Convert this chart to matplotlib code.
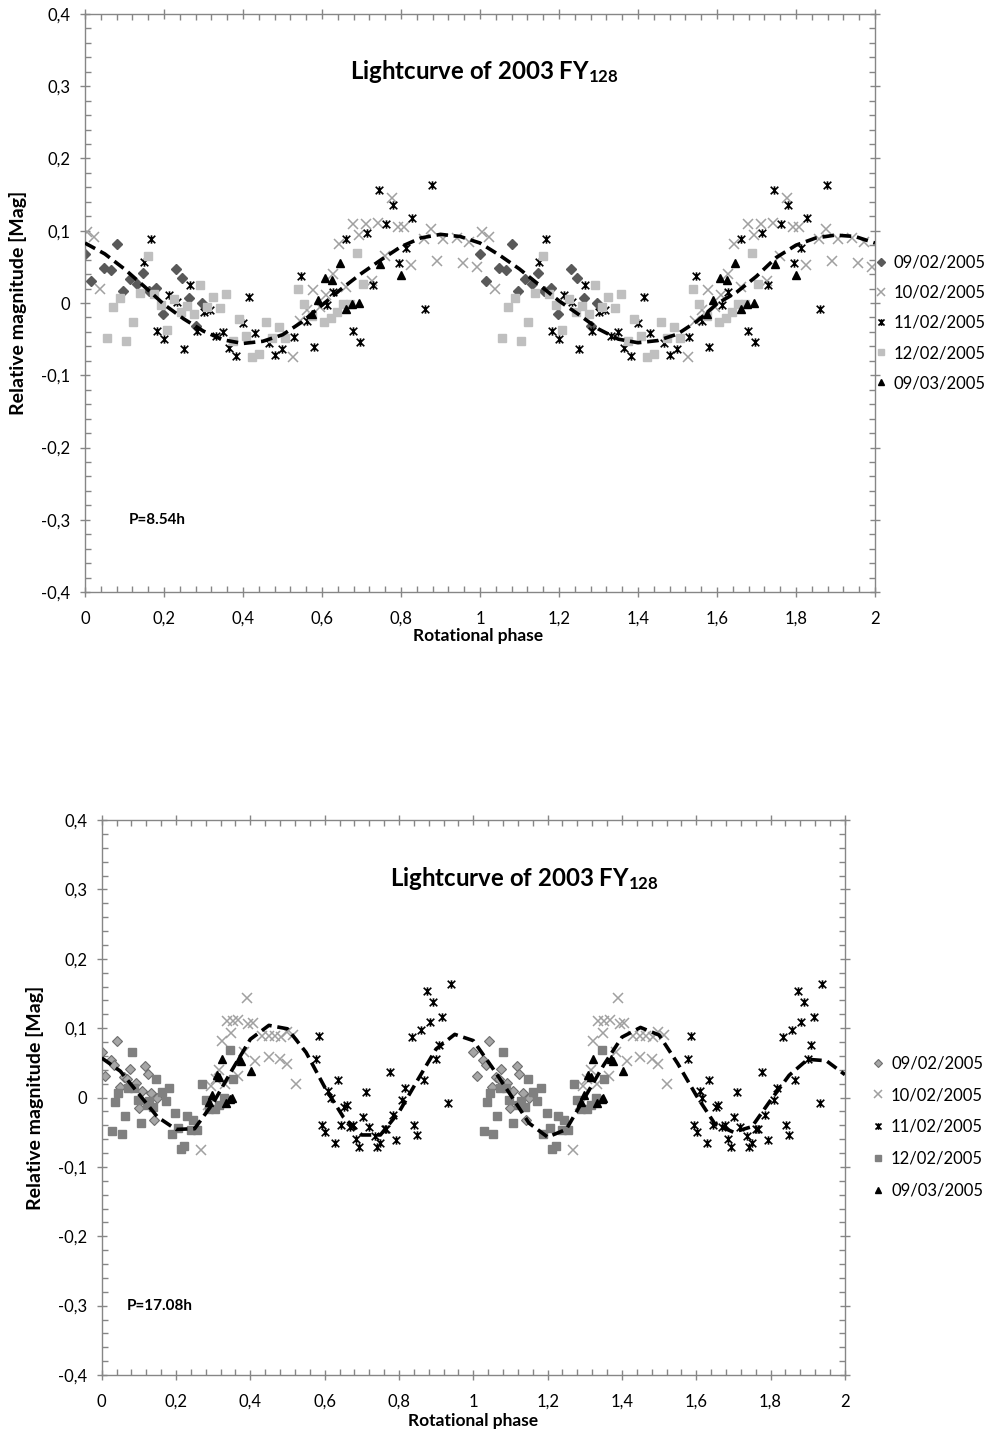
import numpy as np
import matplotlib
matplotlib.use('Agg')
import matplotlib.pyplot as plt
from matplotlib.path import Path
from matplotlib.ticker import MultipleLocator, FuncFormatter

plt.rcParams['font.family'] = ['Lato', 'DejaVu Sans']
plt.rcParams['mathtext.fontset'] = 'custom'
plt.rcParams['mathtext.rm'] = 'Lato:bold'
plt.rcParams['mathtext.it'] = 'Lato:bold'
plt.rcParams['mathtext.bf'] = 'Lato:bold'

dates = ['09/02/2005', '10/02/2005', '11/02/2005', '12/02/2005', '09/03/2005']

# ---- top chart (P = 8.54 h), one rotation, shown twice ----
top_0902_ph = [0.000, 0.015, 0.048, 0.065, 0.082, 0.097, 0.114, 0.131, 0.148, 0.163, 0.181, 0.197, 0.230, 0.246, 0.263, 0.280, 0.296]
top_0902_mag = [0.068, 0.031, 0.049, 0.046, 0.082, 0.016, 0.033, 0.026, 0.042, 0.017, 0.021, -0.015, 0.047, 0.035, 0.007, -0.032, 0.000]

top_1002_ph = [0.004, 0.023, 0.038, 0.527, 0.544, 0.561, 0.576, 0.595, 0.610, 0.627, 0.644, 0.661, 0.678, 0.694, 0.711, 0.726, 0.743, 0.760, 0.777, 0.792, 0.808, 0.826, 0.859, 0.875, 0.890, 0.907, 0.941, 0.958, 0.973, 0.992]
top_1002_mag = [0.098, 0.091, 0.020, -0.075, -0.025, -0.010, 0.018, -0.005, 0.011, 0.040, 0.082, 0.022, 0.109, 0.094, 0.109, 0.030, 0.111, 0.065, 0.145, 0.105, 0.105, 0.052, 0.089, 0.102, 0.058, 0.089, 0.090, 0.055, 0.085, 0.050]

top_1102_ph = [0.150, 0.167, 0.183, 0.200, 0.213, 0.232, 0.250, 0.266, 0.283, 0.300, 0.316, 0.332, 0.349, 0.365, 0.382, 0.399, 0.416, 0.431, 0.465, 0.482, 0.499, 0.529, 0.546, 0.561, 0.580, 0.612, 0.629, 0.662, 0.679, 0.696, 0.713, 0.728, 0.745, 0.762, 0.779, 0.795, 0.812, 0.829, 0.861, 0.878]
top_1102_mag = [0.057, 0.089, -0.039, -0.050, 0.011, 0.001, -0.064, 0.025, -0.039, -0.013, -0.010, -0.045, -0.040, -0.062, -0.073, -0.028, 0.008, -0.042, -0.056, -0.072, -0.064, -0.047, 0.038, -0.025, -0.061, -0.003, 0.015, 0.088, -0.039, -0.054, 0.097, 0.025, 0.156, 0.110, 0.136, 0.056, 0.076, 0.118, -0.008, 0.164]

top_1202_ph = [0.055, 0.072, 0.089, 0.105, 0.121, 0.139, 0.159, 0.175, 0.192, 0.208, 0.225, 0.242, 0.259, 0.276, 0.291, 0.308, 0.325, 0.342, 0.357, 0.374, 0.391, 0.407, 0.424, 0.440, 0.457, 0.473, 0.490, 0.506, 0.540, 0.555, 0.574, 0.605, 0.622, 0.639, 0.654, 0.671, 0.688, 0.705]
top_1202_mag = [-0.049, -0.006, 0.007, -0.052, -0.026, 0.014, 0.065, 0.013, -0.003, -0.037, 0.005, -0.012, -0.004, -0.015, 0.025, -0.006, 0.008, -0.007, 0.012, -0.053, -0.022, -0.045, -0.075, -0.071, -0.026, -0.048, -0.033, -0.048, 0.020, -0.002, -0.018, -0.026, -0.021, -0.012, -0.001, -0.001, 0.069, 0.026]

top_0903_ph = [0.575, 0.591, 0.608, 0.625, 0.646, 0.661, 0.677, 0.694, 0.747, 0.799]
top_0903_mag = [-0.015, 0.004, 0.035, 0.032, 0.056, -0.008, -0.002, 0.000, 0.054, 0.039]

top_fit_ph = [0.00, 0.05, 0.10, 0.15, 0.20, 0.25, 0.30, 0.35, 0.40, 0.45, 0.50, 0.55, 0.60, 0.65, 0.70, 0.75, 0.80, 0.85, 0.90, 0.95,
              1.00, 1.05, 1.10, 1.15, 1.20, 1.25, 1.30, 1.35, 1.40, 1.45, 1.50, 1.55, 1.60, 1.65, 1.70, 1.75, 1.80, 1.85, 1.90, 1.95, 2.00]
top_fit_mag = [0.083, 0.068, 0.047, 0.023, -0.002, -0.022, -0.039, -0.051, -0.056, -0.053, -0.044, -0.026, -0.003, 0.020, 0.041, 0.060, 0.078, 0.090, 0.095, 0.092,
               0.083, 0.066, 0.047, 0.025, 0.003, -0.016, -0.036, -0.050, -0.055, -0.052, -0.043, -0.025, -0.001, 0.015, 0.037, 0.063, 0.080, 0.090, 0.094, 0.092, 0.083]

# ---- bottom chart (P = 17.08 h) ----
bot_0902_ph = [0.000, 0.009, 0.025, 0.033, 0.042, 0.049, 0.061, 0.069, 0.075, 0.092, 0.100, 0.108, 0.117, 0.124, 0.133, 0.142, 0.150]
bot_0902_mag = [0.066, 0.031, 0.054, 0.047, 0.081, 0.015, 0.030, 0.026, 0.041, 0.021, -0.015, 0.010, 0.046, 0.034, 0.007, -0.032, 0.000]

bot_1002_ph = [0.267, 0.287, 0.294, 0.307, 0.316, 0.323, 0.332, 0.336, 0.348, 0.353, 0.366, 0.368, 0.383, 0.390, 0.395, 0.406, 0.413, 0.431, 0.449, 0.449, 0.466, 0.480, 0.483, 0.498, 0.498, 0.514, 0.522]
bot_1002_mag = [-0.075, -0.011, 0.016, 0.026, 0.040, 0.081, 0.020, 0.110, 0.093, 0.110, 0.031, 0.111, 0.065, 0.144, 0.106, 0.107, 0.053, 0.089, 0.058, 0.089, 0.089, 0.055, 0.087, 0.049, 0.094, 0.090, 0.020]

bot_1102_ph = [0.577, 0.586, 0.594, 0.601, 0.610, 0.616, 0.628, 0.635, 0.644, 0.653, 0.659, 0.668, 0.677, 0.685, 0.693, 0.702, 0.710, 0.718, 0.736, 0.742, 0.749, 0.762, 0.766, 0.776, 0.785, 0.792, 0.809, 0.816, 0.834, 0.841, 0.849, 0.858, 0.867, 0.875, 0.883, 0.891, 0.900, 0.909, 0.917, 0.933, 0.939]
bot_1102_mag = [0.056, 0.088, -0.039, -0.050, 0.009, 0.000, -0.065, 0.025, -0.039, -0.013, -0.011, -0.043, -0.040, -0.060, -0.072, -0.028, 0.008, -0.042, -0.056, -0.071, -0.065, -0.045, -0.046, 0.037, -0.025, -0.061, -0.003, 0.014, 0.087, -0.040, -0.054, 0.097, 0.025, 0.154, 0.109, 0.137, 0.055, 0.075, 0.116, -0.008, 0.163]

bot_1202_ph = [0.029, 0.036, 0.045, 0.054, 0.063, 0.072, 0.081, 0.088, 0.097, 0.106, 0.121, 0.128, 0.139, 0.146, 0.161, 0.172, 0.181, 0.188, 0.197, 0.206, 0.213, 0.222, 0.229, 0.240, 0.245, 0.256, 0.271, 0.280, 0.289, 0.305, 0.316, 0.330, 0.345, 0.353]
bot_1202_mag = [-0.049, -0.006, 0.006, -0.053, -0.027, 0.014, 0.065, 0.013, -0.003, -0.037, -0.011, -0.005, -0.013, 0.026, 0.008, -0.005, 0.013, -0.053, -0.022, -0.044, -0.074, -0.070, -0.027, -0.047, -0.033, -0.047, 0.020, -0.003, -0.016, -0.016, -0.011, -0.001, 0.068, 0.026]

bot_0903_ph = [0.290, 0.298, 0.309, 0.316, 0.323, 0.334, 0.345, 0.350, 0.370, 0.375, 0.402]
bot_0903_mag = [-0.006, 0.003, 0.032, 0.030, 0.055, -0.008, -0.002, -0.001, 0.055, 0.052, 0.038]

bot_fit_ph = top_fit_ph
bot_fit_mag = [0.057, 0.038, 0.005, -0.028, -0.046, -0.045, -0.008, 0.039, 0.084, 0.104, 0.099, 0.065, 0.015, -0.028, -0.054, -0.054, -0.021, 0.025, 0.070, 0.091,
               0.082, 0.044, 0.004, -0.037, -0.057, -0.046, 0.000, 0.046, 0.087, 0.101, 0.090, 0.049, 0.003, -0.038, -0.050, -0.042, -0.004, 0.032, 0.055, 0.053, 0.033]

# Excel-like "star" marker: an x with a vertical bar
star = Path([(-1, -1), (1, 1), (-1, 1), (1, -1), (0, -1.1), (0, 1.1)],
            [Path.MOVETO, Path.LINETO, Path.MOVETO, Path.LINETO, Path.MOVETO, Path.LINETO])

GRID = '#868686'


def two_cycles(ph, mag):
    ph = np.asarray(ph)
    return np.concatenate([ph, ph + 1]), np.concatenate([mag, mag])


def comma(v, pos):
    s = '{:g}'.format(round(v, 2))
    return s.replace('.', ',')


def style_axes(ax):
    ax.set_xlim(0, 2)
    ax.set_ylim(-0.4, 0.4)
    ax.xaxis.set_major_locator(MultipleLocator(0.2))
    ax.xaxis.set_minor_locator(MultipleLocator(0.04))
    ax.yaxis.set_major_locator(MultipleLocator(0.1))
    ax.yaxis.set_minor_locator(MultipleLocator(0.02))
    ax.xaxis.set_major_formatter(FuncFormatter(comma))
    ax.yaxis.set_major_formatter(FuncFormatter(comma))
    for s in ax.spines.values():
        s.set_color(GRID)
        s.set_linewidth(1.0)
    ax.tick_params(which='major', direction='inout', length=7, width=1, color=GRID,
                   labelsize=12, top=True, right=True)
    ax.tick_params(axis='x', which='major', pad=10)
    ax.tick_params(axis='y', which='major', pad=7)
    ax.tick_params(which='minor', direction='in', length=4, width=1, color=GRID,
                   top=True, right=True)


def draw(ax, series, fit_ph, fit_mag, styles):
    handles = []
    for (ph, mag), st in zip(series, styles):
        x, y = two_cycles(ph, mag)
        h, = ax.plot(x, y, linestyle='none', **st)
        handles.append(h)
    ax.plot(fit_ph, fit_mag, color='black', lw=2.6, dashes=(3.2, 1.6), zorder=5)
    return handles


fig = plt.figure(figsize=(9.92, 14.34), dpi=100)

# top
ax1 = fig.add_axes([85 / 992, 1 - 592 / 1434, 790 / 992, 578 / 1434])
style_axes(ax1)
top_styles = [
    dict(marker='D', ms=5.5, mfc='#595959', mec='#595959'),
    dict(marker='x', ms=6.5, mec='#a0a0a0', mew=1.1),
    dict(marker=star, ms=6, mec='black', mew=1.2),
    dict(marker='s', ms=6, mfc='#bfbfbf', mec='#bfbfbf'),
    dict(marker='^', ms=6, mfc='black', mec='black'),
]
h1 = draw(ax1, [(top_0902_ph, top_0902_mag), (top_1002_ph, top_1002_mag), (top_1102_ph, top_1102_mag),
                (top_1202_ph, top_1202_mag), (top_0903_ph, top_0903_mag)],
          top_fit_ph, top_fit_mag, top_styles)
ax1.text(0.506, 0.8875, r'Lightcurve of 2003 FY$_{128}$', transform=ax1.transAxes,
         ha='center', va='baseline', fontsize=17.3, fontweight='bold')
ax1.text(0.11, -0.3, 'P=8.54h', ha='left', va='center', fontsize=11, fontweight='bold')
ax1.set_xlabel('Rotational phase', fontsize=12.5, fontweight='bold')
ax1.xaxis.set_label_coords(0.497, -0.063)
ax1.set_ylabel('Relative magnitude [Mag]', fontsize=14, fontweight='bold')
ax1.yaxis.set_label_coords(-0.073, 0.5)
fig.legend(h1, dates, loc='center left', bbox_to_anchor=(874 / 992, 1 - 323 / 1434),
           frameon=False, fontsize=12, markerscale=0.8, handlelength=0.8,
           handletextpad=0.4, labelspacing=0.85, borderpad=0, borderaxespad=0)

# bottom
ax2 = fig.add_axes([101.7 / 992, 1 - 1375 / 1434, 743.2 / 992, 555 / 1434])
style_axes(ax2)
bot_styles = [
    dict(marker='D', ms=5.5, mfc='#a6a6a6', mec='#6e6e6e', mew=0.8),
    dict(marker='x', ms=6.5, mec='#a0a0a0', mew=1.1),
    dict(marker=star, ms=6, mec='black', mew=1.2),
    dict(marker='s', ms=6, mfc='#808080', mec='#808080'),
    dict(marker='^', ms=6, mfc='black', mec='black'),
]
h2 = draw(ax2, [(bot_0902_ph, bot_0902_mag), (bot_1002_ph, bot_1002_mag), (bot_1102_ph, bot_1102_mag),
                (bot_1202_ph, bot_1202_mag), (bot_0903_ph, bot_0903_mag)],
          bot_fit_ph, bot_fit_mag, bot_styles)
ax2.text(0.569, 0.881, r'Lightcurve of 2003 FY$_{128}$', transform=ax2.transAxes,
         ha='center', va='baseline', fontsize=17.3, fontweight='bold')
ax2.text(0.068, -0.3, 'P=17.08h', ha='left', va='center', fontsize=11, fontweight='bold')
ax2.set_xlabel('Rotational phase', fontsize=12.5, fontweight='bold', labelpad=2)
ax2.set_ylabel('Relative magnitude [Mag]', fontsize=14, fontweight='bold')
ax2.yaxis.set_label_coords(-0.078, 0.5)
fig.legend(h2, dates, loc='center left', bbox_to_anchor=(871 / 992, 1 - 1127 / 1434),
           frameon=False, fontsize=12, markerscale=0.8, handlelength=0.8,
           handletextpad=0.4, labelspacing=0.95, borderpad=0, borderaxespad=0)

fig.savefig('out.png', dpi=100)
